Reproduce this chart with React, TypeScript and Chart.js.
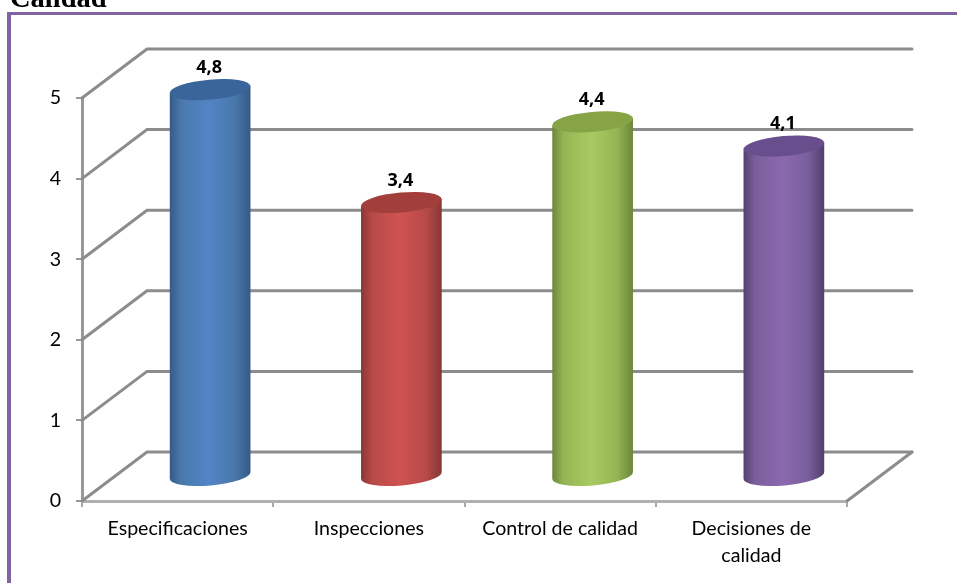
import React, { useEffect, useRef } from "react";
import { Chart, registerables } from "chart.js";

Chart.register(...registerables);

const categories: (string | string[])[] = [
  "Especificaciones",
  "Inspecciones",
  "Control de calidad",
  ["Decisiones de", "calidad"],
];
const values = [4.8, 3.4, 4.4, 4.1];
const valueLabels = ["4,8", "3,4", "4,4", "4,1"];
const yTicks = [0, 1, 2, 3, 4, 5];
const titleText = "Calidad";

const bodyLight = ["#5285c6", "#cf5351", "#a8ca61", "#8b69af"];
const bodyMid = ["#4a78ac", "#b84a48", "#95b554", "#7a5f9c"];
const bodyDark = ["#345a86", "#873735", "#6b853a", "#523f6c"];
const capColor = ["#39659a", "#a23e3c", "#86a446", "#694e8d"];

const DEPTH_X = 65;
const DEPTH_Y = -49;
const GRID = "#8c8c8c";
const FRAME = "#8064a2";

const threeD = {
  id: "threeD",
  beforeDraw(chart: any) {
    const c = chart.ctx;
    c.save();
    c.fillStyle = "#fff";
    c.fillRect(0, 0, chart.width, chart.height);
    c.fillStyle = FRAME;
    c.fillRect(7, 12, 4, chart.height - 12);
    c.fillRect(7, 12, chart.width - 7, 3);
    c.font = "bold 28.5px 'Liberation Serif'";
    c.fillStyle = "#000";
    c.textBaseline = "alphabetic";
    c.textAlign = "left";
    c.fillText(titleText, 10, 7);
    c.restore();
  },
  beforeDatasetsDraw(chart: any) {
    const c = chart.ctx;
    const xs = chart.scales.x;
    const ys = chart.scales.y;
    const left = xs.left;
    const right = xs.right;
    c.save();
    c.lineCap = "round";
    c.lineWidth = 3;
    c.strokeStyle = GRID;
    for (const v of yTicks) {
      const y = ys.getPixelForValue(v);
      c.beginPath();
      c.moveTo(left, y);
      c.lineTo(left + DEPTH_X, y + DEPTH_Y);
      c.lineTo(right + DEPTH_X, y + DEPTH_Y);
      c.stroke();
    }
    const y0 = ys.getPixelForValue(0);
    c.beginPath();
    c.moveTo(right, y0);
    c.lineTo(right + DEPTH_X, y0 + DEPTH_Y);
    c.stroke();
    c.restore();
  },
  beforeDatasetDraw(chart: any) {
    const c = chart.ctx;
    const meta = chart.getDatasetMeta(0);
    const rot = (-5 * Math.PI) / 180;
    const ry = 10;
    meta.data.forEach((bar: any, i: number) => {
      const rx = bar.width / 2;
      const cx = bar.x + DEPTH_X / 2;
      const topY = bar.y + DEPTH_Y / 2;
      const baseY = bar.base + DEPTH_Y / 2;
      const dxE = rx * Math.cos(rot);
      const dyE = rx * Math.sin(rot);
      const grad = c.createLinearGradient(cx - rx, 0, cx + rx, 0);
      grad.addColorStop(0, bodyDark[i]);
      grad.addColorStop(0.14, bodyMid[i]);
      grad.addColorStop(0.48, bodyLight[i]);
      grad.addColorStop(0.8, bodyMid[i]);
      grad.addColorStop(1, bodyDark[i]);
      c.save();
      c.beginPath();
      c.moveTo(cx - dxE, topY - dyE);
      c.lineTo(cx - dxE, baseY - dyE);
      c.ellipse(cx, baseY, rx, ry, rot, Math.PI, 0, true);
      c.lineTo(cx + dxE, topY + dyE);
      c.closePath();
      c.fillStyle = grad;
      c.fill();
      c.beginPath();
      c.ellipse(cx, topY, rx, ry, rot, 0, Math.PI * 2);
      c.fillStyle = capColor[i];
      c.fill();
      c.restore();
    });
    return false;
  },
  afterDatasetsDraw(chart: any) {
    const c = chart.ctx;
    const meta = chart.getDatasetMeta(0);
    c.save();
    c.font = "bold 18px 'Open Sans'";
    c.fillStyle = "#000";
    c.textAlign = "center";
    c.textBaseline = "middle";
    meta.data.forEach((bar: any, i: number) => {
      c.fillText(valueLabels[i], bar.x + DEPTH_X / 2 - 1, bar.y + DEPTH_Y / 2 - 22);
    });
    c.restore();
  },
};

export default function App() {
  const ref = useRef<HTMLCanvasElement>(null);
  useEffect(() => {
    const chart = new Chart(ref.current as HTMLCanvasElement, {
      type: "bar",
      data: {
        labels: categories as any,
        datasets: [{ data: values, backgroundColor: bodyLight, barThickness: 81 }],
      },
      plugins: [threeD],
      options: {
        animation: false,
        responsive: false,
        layout: { padding: { top: 98, right: 110, left: 0, bottom: 0 } },
        plugins: { legend: { display: false }, tooltip: { enabled: false } },
        scales: {
          x: {
            afterFit: (s: any) => {
              s.height = 82;
            },
            grid: { drawOnChartArea: false, color: "#a8a8a8", lineWidth: 2, tickLength: 6 },
            border: { color: "#b0b0b0", width: 3 },
            ticks: {
              color: "#000",
              font: { family: "Lato", size: 19.6, lineHeight: 1.38 },
              padding: 8,
              maxRotation: 0,
              autoSkip: false,
            },
          },
          y: {
            min: 0,
            max: 5,
            afterFit: (s: any) => {
              s.width = 82;
            },
            grid: { drawOnChartArea: false, color: "#999", lineWidth: 2, tickLength: 6 },
            border: { color: "#999", width: 3 },
            ticks: {
              color: "#000",
              font: { family: "Lato", size: 19.6 },
              padding: 15,
              stepSize: 1,
            },
          },
        },
      } as any,
    });
    return () => chart.destroy();
  }, []);
  return (
    <canvas
      ref={ref}
      width={957}
      height={583}
      style={{ position: "absolute", left: 0, top: 0, display: "block" }}
    />
  );
}
